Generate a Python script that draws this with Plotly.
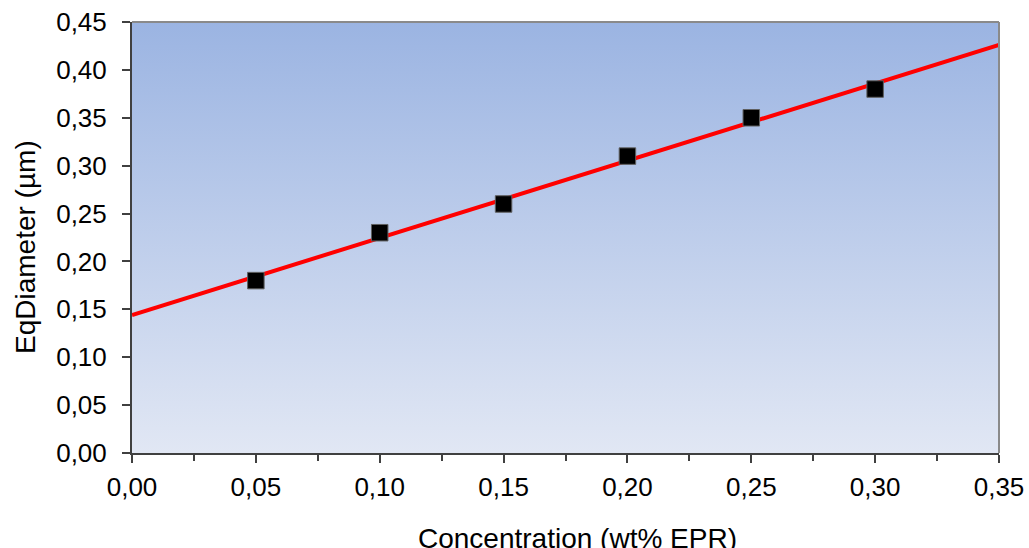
import numpy as np
import plotly.graph_objects as go

# Data
concentration = [0.05, 0.10, 0.15, 0.20, 0.25, 0.30]
eq_diameter = [0.18, 0.23, 0.26, 0.31, 0.35, 0.38]

x_range = [0.0, 0.35]
y_range = [0.0, 0.45]

# Linear trendline fitted to the data
slope, intercept = np.polyfit(concentration, eq_diameter, 1)
trend_x = x_range
trend_y = [intercept + slope * v for v in trend_x]

FONT = "Liberation Sans, Arial, sans-serif"

fig = go.Figure()

# Gradient plot background
fig.add_trace(go.Scatter(
    x=[x_range[0], x_range[1], x_range[1], x_range[0], x_range[0]],
    y=[y_range[0], y_range[0], y_range[1], y_range[1], y_range[0]],
    fill="toself",
    mode="none",
    fillgradient=dict(type="vertical",
                      colorscale=[[0, "#e1e7f4"], [1, "#9bb4e2"]]),
    hoverinfo="skip",
    showlegend=False,
))

fig.add_trace(go.Scatter(
    x=trend_x, y=trend_y, mode="lines",
    line=dict(color="#ff0000", width=4),
    showlegend=False,
))

fig.add_trace(go.Scatter(
    x=concentration, y=eq_diameter, mode="markers",
    marker=dict(symbol="square", size=16.5, color="#000000",
                line=dict(color="#606060", width=1)),
    showlegend=False,
))

# top/right border (lighter gray)
fig.add_shape(type="line", xref="paper", yref="paper", x0=0, x1=1, y0=1, y1=1,
              line=dict(color="#8a8a8a", width=2), layer="above")
fig.add_shape(type="line", xref="paper", yref="paper", x0=1, x1=1, y0=0, y1=1,
              line=dict(color="#8a8a8a", width=2), layer="above")

fig.update_layout(
    width=1029, height=548,
    margin=dict(l=132, r=30, t=22, b=95, autoexpand=False),
    paper_bgcolor="white",
    plot_bgcolor="white",
    separators=", ",
    font=dict(family=FONT, size=26, color="#000000"),
    showlegend=False,
)

fig.update_xaxes(
    range=x_range, dtick=0.05, tick0=0, tickformat=".2f",
    automargin=False,
    showgrid=False, zeroline=False,
    showline=True, linecolor="#404040", linewidth=2,
    ticks="outside", ticklen=8, tickwidth=2, tickcolor="#404040",
    ticklabelstandoff=2,
    minor=dict(dtick=0.025, tick0=0, ticks="outside", ticklen=6,
               tickwidth=2, tickcolor="#404040", showgrid=False),
    tickfont=dict(size=26),
)
fig.update_yaxes(
    range=y_range, dtick=0.05, tick0=0, tickformat=".2f",
    automargin=False,
    showgrid=False, zeroline=False,
    showline=True, linecolor="#404040", linewidth=2,
    ticks="outside", ticklen=8, tickwidth=2, tickcolor="#404040",
    ticklabelstandoff=10,
    tickfont=dict(size=26),
)

fig.add_annotation(text="Concentration (wt% EPR)", xref="paper", yref="paper",
                   x=(577.5 - 132) / 867, y=-(547 - 453) / 431,
                   xanchor="center", yanchor="bottom", yshift=-9,
                   showarrow=False, font=dict(size=28))
fig.add_annotation(text="EqDiameter (µm)", xref="paper", yref="paper",
                   x=-(132 - 26) / 867, y=(453 - 247) / 431,
                   xanchor="center", yanchor="middle", textangle=-90,
                   showarrow=False, font=dict(size=28))

fig.write_html(
    "out.html",
    config={"displayModeBar": False},
    post_script="document.body.style.margin='0';document.body.style.overflow='hidden';",
)
